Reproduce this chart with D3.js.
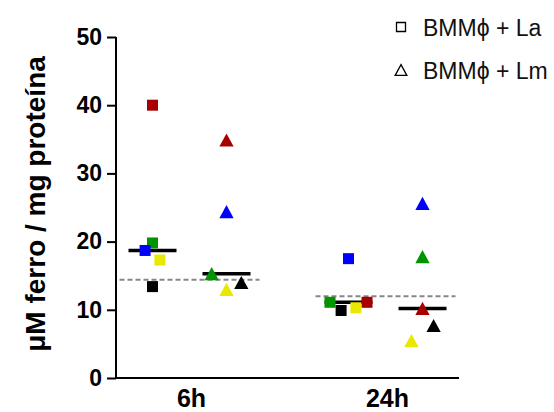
<!DOCTYPE html>
<html>
<head>
<meta charset="utf-8">
<script src="https://cdn.jsdelivr.net/npm/d3@7"></script>
<style>
    body { margin: 0; background: #fff; }
    svg { display: block; font-family: "Liberation Sans", Arial, sans-serif; }
</style>
</head>
<body>
<svg width="554" height="412"></svg>
<script>
// categorias e séries
var groups = ["6h", "24h"];
var series = ["La", "Lm"];
var seriesLabels = ["BMM\u03d5 + La", "BMM\u03d5 + Lm"];
var pointColors = ["#a80000", "#009400", "#0000ff", "#e8e800", "#000000"];

// valores (vermelho, verde, azul, amarelo, preto)
var la6h = [40.0, 19.8, 18.7, 17.3, 13.4];
var lm6h = [34.9, 15.3, 24.4, 13.0, 14.0];
var la24h = [11.1, 11.1, 17.5, 10.3, 9.9];
var lm24h = [10.2, 17.8, 25.6, 5.5, 7.7];

// deslocamento horizontal dos pontos sobrepostos
var la6hJitter = [0, 0, -2, 2, 0];
var lm6hJitter = [0, -4, 0, 0, 4];
var la24hJitter = [5, -5, 0, 2, -2];
var lm24hJitter = [0, 0, 0, -3, 3];

// linha tracejada (controle)
var controlValues = [14.4, 12.0];

var yTicks = [0, 10, 20, 30, 40, 50];

window.onload = main;

function main() {
    var svg = d3.select("svg");

    var y = d3.scaleLinear().domain([0, 50]).range([378, 37]);
    var x = d3.scalePoint().domain(groups).range([116, 459]).padding(0.375);
    var xs = d3.scalePoint().domain(series).range([-37, 37]);
    var jitterStep = 3.7;

    var data = [
        { g: "6h", s: "La", values: la6h, jitter: la6hJitter },
        { g: "6h", s: "Lm", values: lm6h, jitter: lm6hJitter },
        { g: "24h", s: "La", values: la24h, jitter: la24hJitter },
        { g: "24h", s: "Lm", values: lm24h, jitter: lm24hJitter },
    ];

    // eixo y
    var yAxis = svg.append("g")
        .attr("transform", "translate(116,0)")
        .call(d3.axisLeft(y).tickValues(yTicks).tickSize(9).tickPadding(5));
    yAxis.select(".domain").attr("stroke", "#000").attr("stroke-width", 2)
        .attr("d", "M0," + y(0) + "V" + y(50));
    yAxis.selectAll(".tick line").attr("stroke-width", 2);
    yAxis.selectAll(".tick text")
        .attr("font-size", 23).attr("font-weight", "bold").attr("fill", "#000");

    // eixo x
    svg.append("line")
        .attr("x1", 116).attr("x2", 459)
        .attr("y1", y(0)).attr("y2", y(0))
        .attr("stroke", "#000").attr("stroke-width", 2);

    svg.selectAll(".xlabel")
        .data(groups)
        .enter()
        .append("text")
        .attr("class", "xlabel")
        .attr("x", (d) => x(d) + 2)
        .attr("y", 407)
        .attr("text-anchor", "middle")
        .attr("font-size", 25)
        .attr("font-weight", "bold")
        .text((d) => d);

    // título do eixo y
    svg.append("text")
        .attr("transform", "translate(45,204) rotate(-90)")
        .attr("text-anchor", "middle")
        .attr("font-size", 28)
        .attr("font-weight", "bold")
        .text("\u03bcM ferro / mg prote\u00edna");

    // linhas tracejadas
    svg.selectAll(".control")
        .data(controlValues)
        .enter()
        .append("line")
        .attr("x1", (d, i) => Math.max(116, x(groups[i]) - 70))
        .attr("x2", (d, i) => x(groups[i]) + 70)
        .attr("y1", (d) => y(d))
        .attr("y2", (d) => y(d))
        .attr("stroke", "#888")
        .attr("stroke-width", 2)
        .attr("stroke-dasharray", "5,3");

    // medianas
    svg.selectAll(".median")
        .data(data)
        .enter()
        .append("line")
        .attr("x1", (d) => x(d.g) + xs(d.s) - 24)
        .attr("x2", (d) => x(d.g) + xs(d.s) + 24)
        .attr("y1", (d) => y(d3.median(d.values)))
        .attr("y2", (d) => y(d3.median(d.values)))
        .attr("stroke", "#000")
        .attr("stroke-width", 3.5);

    function shape(s, size) {
        if (s === "La") {
            var h = size / 2;
            return "M" + -h + "," + -h + "H" + h + "V" + h + "H" + -h + "Z";
        }
        var w = size * 1.3 / 2, t = size * 1.2 / 2;
        return "M0," + -t + "L" + w + "," + t + "H" + -w + "Z";
    }

    // pontos
    data.forEach(function (d) {
        svg.append("g")
            .selectAll("path")
            .data(d.values)
            .enter()
            .append("path")
            .attr("d", shape(d.s, 11))
            .attr("transform", (v, i) =>
                "translate(" + (x(d.g) + xs(d.s) + d.jitter[i] * jitterStep) + "," + y(v) + ")")
            .attr("fill", (v, i) => pointColors[i]);
    });

    // legenda
    var legend = svg.selectAll(".legend")
        .data(series)
        .enter()
        .append("g")
        .attr("class", "legend")
        .attr("transform", (d, i) => "translate(401," + (27 + i * 43) + ")");
    legend.append("path")
        .attr("d", (d) => shape(d, 9))
        .attr("fill", "none")
        .attr("stroke", "#000")
        .attr("stroke-width", 1.3);
    legend.append("text")
        .attr("x", 22)
        .attr("y", 9)
        .attr("font-size", 23)
        .attr("fill", "#111")
        .text((d, i) => seriesLabels[i]);
}
</script>
</body>
</html>
